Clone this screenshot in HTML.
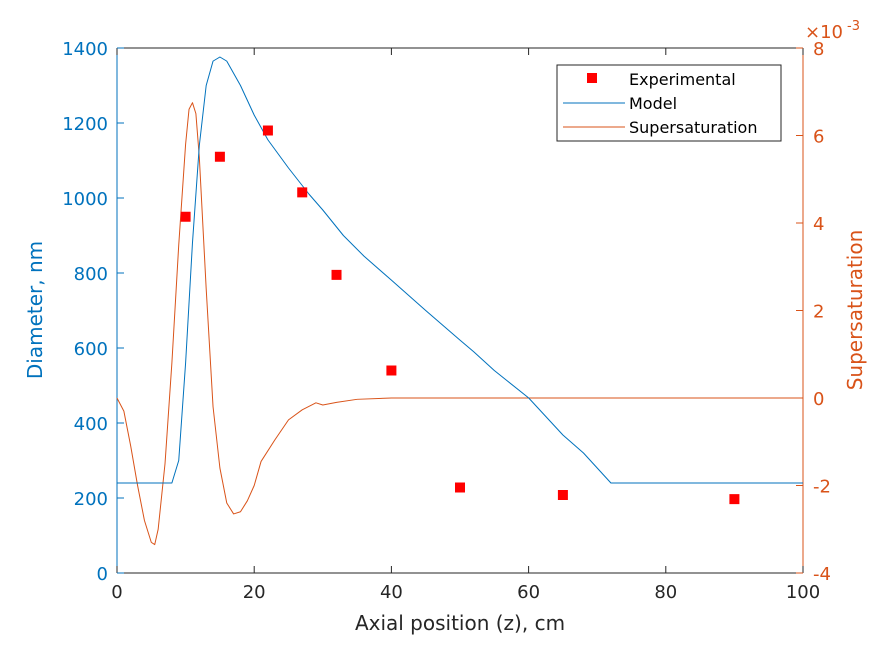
<!DOCTYPE html>
<html><head><meta charset="utf-8"><style>
body{margin:0;background:#fff}
svg{font-family:"DejaVu Sans","Liberation Sans",sans-serif}
</style></head><body>
<svg id="chart" width="889" height="645" viewBox="0 0 889 645"></svg>
<script>
const modelX=[0,8,9,10,11,12,13,14,15,16,18,20,22,25,28,30,33,36,40,45,50,52,55,60,65,68,70,72,100];
const modelY=[240,240,300,560,880,1140,1300,1365,1376,1365,1300,1221,1155,1080,1010,968,900,845,781,700,621,590,540,467,368,320,280,240,240];
const satX=[0,1,2,3,4,5,5.5,6,7,8,9,10,10.5,11,11.5,12,13,14,15,16,17,18,19,20,21,23,25,27,29,30,32,35,40,100];
const satY=[0,-0.3,-1.1,-2.0,-2.8,-3.3,-3.35,-3.0,-1.5,0.8,3.5,5.8,6.6,6.75,6.5,5.5,2.5,-0.2,-1.6,-2.4,-2.65,-2.6,-2.35,-2.0,-1.45,-0.96,-0.5,-0.27,-0.11,-0.16,-0.1,-0.03,0,0];
const expX=[10,15,22,27,32,40,50,65,90];
const expY=[950,1110,1180,1015,795,540,228,208,197];
const xTicks=[0,20,40,60,80,100];
const yLTicks=[0,200,400,600,800,1000,1200,1400];
const yRTicks=[-4,-2,0,2,4,6,8];
const X0=117,X1=803,Y0=573,Y1=48;
const sx=v=>X0+(v-0)/100*(X1-X0);
const syL=v=>Y0-(v/1400)*(Y0-Y1);
const syR=v=>Y0-((v+4)/12)*(Y0-Y1);
const svg=document.getElementById('chart');
const NS='http://www.w3.org/2000/svg';
function mk(t,a,txt){const e=document.createElementNS(NS,t);for(const k in a)e.setAttribute(k,a[k]);if(txt!==undefined)e.textContent=txt;svg.appendChild(e);return e;}
const BL='#0072bd',OR='#d95319',AX='#262626';
let e=mk('line',{x1:X0,y1:Y0,x2:X1,y2:Y0,stroke:AX});

e=mk('line',{x1:X0,y1:Y1,x2:X1,y2:Y1,stroke:AX});

e=mk('line',{x1:X0,y1:Y0,x2:X0,y2:Y1,stroke:BL});

e=mk('line',{x1:X1,y1:Y0,x2:X1,y2:Y1,stroke:OR});

xTicks.forEach(v=>{const x=sx(v);mk('line',{x1:x,y1:Y0,x2:x,y2:Y0-7,stroke:AX});mk('line',{x1:x,y1:Y1,x2:x,y2:Y1+7,stroke:AX});
 e=mk('text',{x:x,y:Y0+25,'text-anchor':'middle','font-size':18,fill:AX},v);
 });
yLTicks.forEach(v=>{const y=syL(v);mk('line',{x1:X0,y1:y,x2:X0+7,y2:y,stroke:BL});
 e=mk('text',{x:X0-9,y:y+7,'text-anchor':'end','font-size':18,fill:BL},v);
 });
yRTicks.forEach(v=>{const y=syR(v);mk('line',{x1:X1,y1:y,x2:X1-7,y2:y,stroke:OR});
 e=mk('text',{x:X1+10,y:y+7,'font-size':18,fill:OR},v);
 });
e=mk('text',{x:805,y:38,'font-size':18,fill:OR},'×10');

e=mk('text',{x:847,y:30,'font-size':13,fill:OR},'-3');

e=mk('text',{x:460,y:630,'text-anchor':'middle','font-size':20,fill:AX},'Axial position (z), cm');

e=mk('text',{x:42,y:310,'text-anchor':'middle','font-size':20,fill:BL,transform:'rotate(-90 42 310)'},'Diameter, nm');

e=mk('text',{x:862,y:310,'text-anchor':'middle','font-size':20,fill:OR,transform:'rotate(-90 862 310)'},'Supersaturation');

e=mk('polyline',{points:satX.map((v,i)=>sx(v)+','+syR(satY[i])).join(' '),fill:'none',stroke:OR,'stroke-width':1,'stroke-linejoin':'round'});

e=mk('polyline',{points:modelX.map((v,i)=>sx(v)+','+syL(modelY[i])).join(' '),fill:'none',stroke:BL,'stroke-width':1,'stroke-linejoin':'round'});

expX.forEach((v,i)=>{e=mk('rect',{x:sx(v)-5,y:syL(expY[i])-5,width:10,height:10,fill:'#ff0000'});
 });
e=mk('rect',{x:557,y:65,width:224,height:76,fill:'#fff',stroke:AX});

mk('rect',{x:587,y:73,width:10,height:10,fill:'#ff0000'});
e=mk('text',{x:629,y:85,'font-size':16,fill:'#000'},'Experimental');

mk('line',{x1:563,y1:103,x2:625,y2:103,stroke:BL});
e=mk('text',{x:629,y:109,'font-size':16,fill:'#000'},'Model');

mk('line',{x1:563,y1:127,x2:625,y2:127,stroke:OR});
e=mk('text',{x:629,y:133,'font-size':16,fill:'#000'},'Supersaturation');

</script>
</body></html>
